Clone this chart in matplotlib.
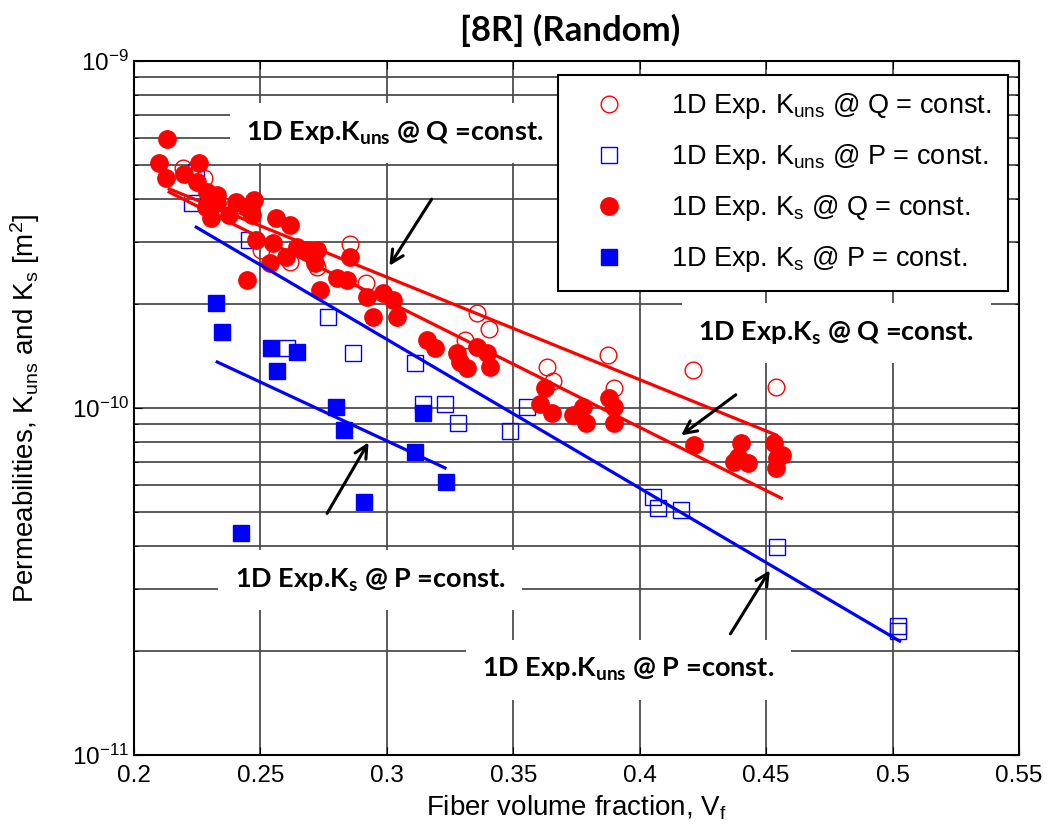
import numpy as np
import matplotlib
matplotlib.use("Agg")
import matplotlib.pyplot as plt

plt.rcParams['font.family'] = ['Liberation Sans', 'DejaVu Sans']
plt.rcParams['mathtext.fontset'] = 'custom'
plt.rcParams['mathtext.rm'] = 'Liberation Sans'
plt.rcParams['mathtext.it'] = 'Liberation Sans'
plt.rcParams['mathtext.bf'] = 'Lato:bold'

# ---- data (permeability in m^2) ----
# 1D Exp. Kuns @ Q = const. (open red circles)
kuns_q_vf = [0.2194, 0.2278, 0.2417, 0.2504, 0.2615, 0.2722, 0.2853, 0.2917, 0.3357,
             0.3405, 0.3310, 0.3635, 0.3659, 0.3873, 0.3897, 0.4210, 0.4540]
kuns_q_k = [4.92e-10, 4.60e-10, 3.85e-10, 2.85e-10, 2.63e-10, 2.55e-10, 2.97e-10, 2.29e-10,
            1.88e-10, 1.69e-10, 1.57e-10, 1.31e-10, 1.20e-10, 1.42e-10, 1.14e-10, 1.29e-10,
            1.15e-10]

# 1D Exp. Kuns @ P = const. (open blue squares)
kuns_p_vf = [0.2246, 0.2230, 0.2456, 0.2766, 0.2607, 0.2865, 0.3111, 0.3143, 0.3230,
             0.3282, 0.3488, 0.3556, 0.4052, 0.4071, 0.4163, 0.4544, 0.5020, 0.5020]
kuns_p_k = [4.79e-10, 3.90e-10, 3.05e-10, 1.83e-10, 1.49e-10, 1.44e-10, 1.35e-10, 1.03e-10,
            1.03e-10, 0.905e-10, 0.858e-10, 1.007e-10, 0.554e-10, 0.515e-10, 0.508e-10,
            0.398e-10, 0.235e-10, 0.228e-10]

# 1D Exp. Ks @ Q = const. (filled red circles)
ks_q_vf = [0.2131, 0.2099, 0.2127, 0.2258, 0.2198, 0.2250, 0.2290, 0.2329, 0.2286, 0.2306,
           0.2329, 0.2405, 0.2377, 0.2444, 0.2476, 0.2468, 0.2448, 0.2563, 0.2536, 0.2615,
           0.2484, 0.2548, 0.2603, 0.2643, 0.2683, 0.2722, 0.2714, 0.2734, 0.2802, 0.2841,
           0.2853, 0.2921, 0.2944, 0.2984, 0.3024, 0.3040, 0.3159, 0.3190, 0.3278, 0.3290,
           0.3317, 0.3357, 0.3397, 0.3409, 0.3627, 0.3607, 0.3655, 0.3738, 0.3774, 0.3786,
           0.3877, 0.3897, 0.3897, 0.4214, 0.4401, 0.4389, 0.4373, 0.4429, 0.4532, 0.4544,
           0.4540, 0.4563]
ks_q_k = [5.96e-10, 5.08e-10, 4.60e-10, 5.08e-10, 4.72e-10, 4.48e-10, 4.19e-10, 4.11e-10,
          3.80e-10, 3.53e-10, 3.90e-10, 3.92e-10, 3.60e-10, 3.80e-10, 3.98e-10, 3.60e-10,
          2.34e-10, 3.53e-10, 2.62e-10, 3.37e-10, 3.05e-10, 2.99e-10, 2.72e-10, 2.91e-10,
          2.85e-10, 2.85e-10, 2.62e-10, 2.19e-10, 2.37e-10, 2.34e-10, 2.72e-10, 2.09e-10,
          1.83e-10, 2.15e-10, 2.05e-10, 1.83e-10, 1.57e-10, 1.49e-10, 1.44e-10, 1.36e-10,
          1.30e-10, 1.50e-10, 1.44e-10, 1.31e-10, 1.14e-10, 1.03e-10, 0.967e-10, 0.954e-10,
          1.01e-10, 0.905e-10, 1.07e-10, 1.01e-10, 0.905e-10, 0.782e-10, 0.793e-10, 0.722e-10,
          0.699e-10, 0.694e-10, 0.793e-10, 0.718e-10, 0.672e-10, 0.732e-10]

# 1D Exp. Ks @ P = const. (filled blue squares)
ks_p_vf = [0.2325, 0.2349, 0.2540, 0.2643, 0.2567, 0.2798, 0.2829, 0.3111, 0.3234, 0.2909,
           0.2425, 0.3143]
ks_p_k = [2.01e-10, 1.66e-10, 1.49e-10, 1.45e-10, 1.28e-10, 1.007e-10, 0.864e-10, 0.747e-10,
          0.612e-10, 0.536e-10, 0.436e-10, 0.967e-10]

# fitted trend lines (end points)
fit_kuns_q_vf = [0.2139, 0.4540]
fit_kuns_q_k = [4.28e-10, 8.36e-11]
fit_ks_q_vf = [0.2139, 0.4560]
fit_ks_q_k = [4.19e-10, 5.50e-11]
fit_kuns_p_vf = [0.2246, 0.5028]
fit_kuns_p_k = [3.32e-10, 2.13e-11]
fit_ks_p_vf = [0.2329, 0.3230]
fit_ks_p_k = [1.357e-10, 6.72e-11]

# annotations: label, text position, arrow tail, arrow head
notes = [
    (r"1D Exp.$\mathbf{K_{uns}}$ @ Q =const.", (0.3032, 6.20e-10), (0.3183, 4.06e-10), (0.3004, 2.53e-10)),
    (r"1D Exp.$\mathbf{K_{s}}$ @ Q =const.", (0.4778, 1.645e-10), (0.4389, 1.104e-10), (0.4155, 8.25e-11)),
    (r"1D Exp.$\mathbf{K_{s}}$ @ P =const.", (0.2933, 3.19e-11), (0.2758, 4.89e-11), (0.2933, 8.09e-11)),
    (r"1D Exp.$\mathbf{K_{uns}}$ @ P =const.", (0.3956, 1.76e-11), (0.4353, 2.20e-11), (0.4520, 3.46e-11)),
]

fig = plt.figure(figsize=(10.52, 8.32), dpi=100)
ax = fig.add_axes([0.1274, 0.0925, 0.8412, 0.8342])
ax.set_yscale('log')
ax.set_xlim(0.2, 0.55)
ax.set_ylim(1e-11, 1e-9)

ax.grid(True, which='major', color='0.3', lw=1.3)
ax.grid(True, which='minor', axis='y', color='0.3', lw=1.3)
ax.set_axisbelow(True)

red = '#ff0000'
blue = '#0000ff'
ax.plot(kuns_q_vf, kuns_q_k, 'o', ms=12, mfc='none', mec=red, mew=1.0, ls='none',
        label=r"1D Exp. $\mathrm{K_{uns}}$ @ Q = const.", zorder=3)
ax.plot(kuns_p_vf, kuns_p_k, 's', ms=11.5, mfc='none', mec=blue, mew=1.0, ls='none',
        label=r"1D Exp. $\mathrm{K_{uns}}$ @ P = const.", zorder=3)
ax.plot(ks_q_vf, ks_q_k, 'o', ms=12.5, color=red, ls='none',
        label=r"1D Exp. $\mathrm{K_{s}}$ @ Q = const.", zorder=3)
ax.plot(ks_p_vf, ks_p_k, 's', ms=11.5, color=blue, ls='none',
        label=r"1D Exp. $\mathrm{K_{s}}$ @ P = const.", zorder=3)

ax.plot(fit_kuns_q_vf, fit_kuns_q_k, '-', color=red, lw=2.3, zorder=4)
ax.plot(fit_ks_q_vf, fit_ks_q_k, '-', color=red, lw=2.3, zorder=4)
ax.plot(fit_kuns_p_vf, fit_kuns_p_k, '-', color=blue, lw=2.3, zorder=4)
ax.plot(fit_ks_p_vf, fit_ks_p_k, '-', color=blue, lw=2.3, zorder=4)

for label, txy, tail, head in notes:
    ax.text(txy[0], txy[1], label, ha='center', va='center', fontsize=19.5,
            fontweight='bold', family=['Lato', 'DejaVu Sans'], zorder=2.5,
            bbox=dict(boxstyle='square,pad=0.6', fc='white', ec='none'))
    ax.annotate('', xy=head, xytext=tail, zorder=6,
                arrowprops=dict(arrowstyle='->,head_length=0.9,head_width=0.45',
                                color='black', lw=2.2))

leg = ax.legend(loc='upper right', bbox_to_anchor=(0.9876, 0.980), borderaxespad=0,
                fontsize=19.5, frameon=True, fancybox=False, edgecolor='black',
                framealpha=1, handletextpad=1.0, labelspacing=0.78, borderpad=0.6,
                handlelength=2.6)
leg.get_frame().set_linewidth(1.5)
leg.set_zorder(10)

ax.tick_params(which='both', direction='in', top=True, right=True, labelsize=17.5)
ax.tick_params(axis='x', pad=7)
ax.tick_params(which='major', length=6)
ax.tick_params(which='minor', length=3)
ax.set_xticks(np.arange(0.2, 0.551, 0.05))
ax.set_xticklabels(['0.2', '0.25', '0.3', '0.35', '0.4', '0.45', '0.5', '0.55'])
for s in ax.spines.values():
    s.set_linewidth(1.5)

ax.set_xlabel(r"Fiber volume fraction, $\mathrm{V_f}$", fontsize=20, labelpad=5)
ax.set_ylabel(r"Permeabilities, $\mathrm{K_{uns}}$ and $\mathrm{K_s}$ [m$^2$]", fontsize=20)
ax.yaxis.set_label_coords(-0.104, 0.5)

fig.text(0.542, 1 - 30 / 832, "[8R] (Random)", ha='center', va='center', fontsize=25,
         fontweight='bold', family=['Lato', 'DejaVu Sans'])

fig.savefig('out.png', dpi=100)
